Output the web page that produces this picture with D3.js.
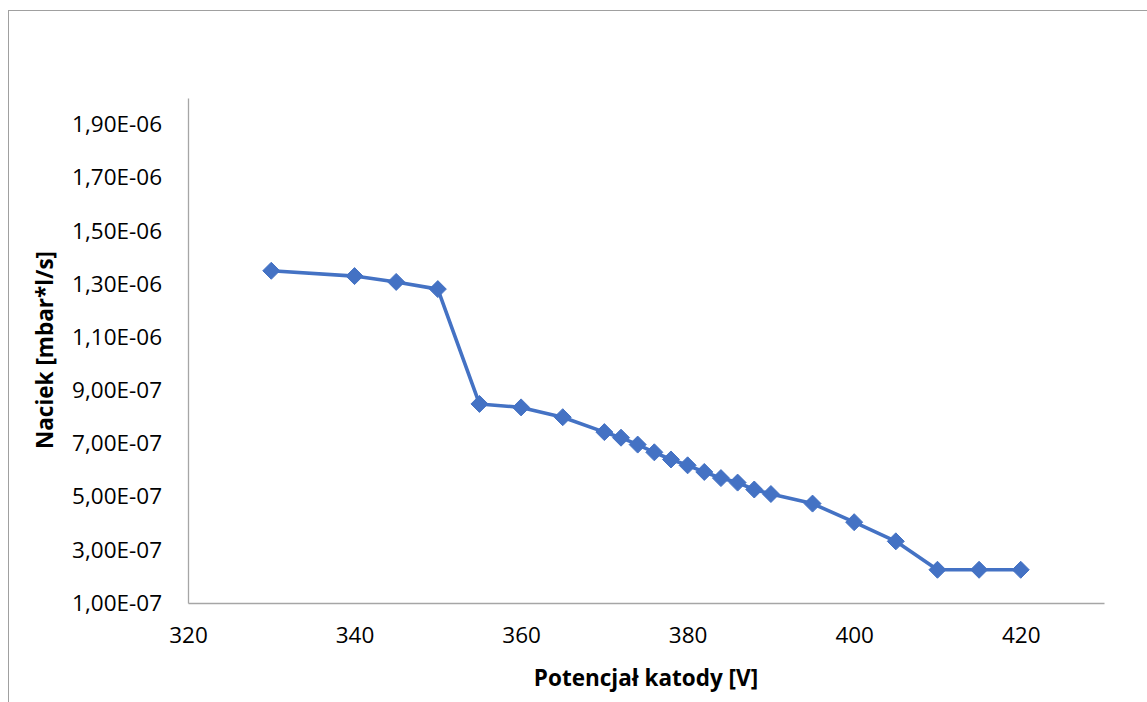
<!DOCTYPE html>
<html>
<head>
<meta charset="utf-8">
<script src="https://cdn.jsdelivr.net/npm/d3@7"></script>
<style>
  body { margin: 0; background: #fff; }
  text { font-family: "Open Sans", sans-serif; fill: #000; }
</style>
</head>
<body>
<div id="chart"></div>
<script>
// data
const voltages = [330, 340, 345, 350, 355, 360, 365, 370, 372, 374, 376, 378, 380,
  382, 384, 386, 388, 390, 395, 400, 405, 410, 415, 420];
const leaks = [1.35e-6, 1.33e-6, 1.308e-6, 1.281e-6, 8.49e-7, 8.36e-7, 7.99e-7, 7.43e-7,
  7.22e-7, 6.96e-7, 6.67e-7, 6.40e-7, 6.18e-7, 5.93e-7, 5.70e-7, 5.53e-7, 5.27e-7,
  5.10e-7, 4.74e-7, 4.04e-7, 3.32e-7, 2.25e-7, 2.25e-7, 2.25e-7];
const xTicks = [320, 340, 360, 380, 400, 420];
const yTicks = [1e-7, 3e-7, 5e-7, 7e-7, 9e-7, 1.1e-6, 1.3e-6, 1.5e-6, 1.7e-6, 1.9e-6];
const xTitle = "Potencjał katody [V]";
const yTitle = "Naciek [mbar*l/s]";

const svgWidth = 1147;
const svgHeight = 702;
const margin = { top: 98, right: 43, bottom: 99, left: 188 };
const width = svgWidth - margin.left - margin.right;
const height = svgHeight - margin.top - margin.bottom;

const svg = d3.select("#chart")
  .append("svg")
  .attr("width", svgWidth)
  .attr("height", svgHeight);

// outer chart frame
svg.append("rect")
  .attr("x", 8.5)
  .attr("y", 10.5)
  .attr("width", 1150)
  .attr("height", 720)
  .attr("fill", "none")
  .attr("stroke", "#a0a0a0")
  .attr("stroke-width", 1);

const chartGroup = svg.append("g")
  .attr("transform", `translate(${margin.left}, ${margin.top})`);

const x = d3.scaleLinear().domain([320, 430]).range([0, width]);
const y = d3.scaleLinear().domain([1e-7, 2e-6]).range([height, 0]);

const fmt = v => {
  const s = v.toExponential(2).toUpperCase().replace(".", ",");
  return s.replace(/E([+-])(\d)$/, "E$10$2");
};

// axes
const xAxis = chartGroup.append("g")
  .attr("transform", `translate(0, ${height})`)
  .call(d3.axisBottom(x).tickValues(xTicks).tickSize(0).tickPadding(24));
const yAxis = chartGroup.append("g")
  .call(d3.axisLeft(y).tickValues(yTicks).tickFormat(fmt).tickSize(0).tickPadding(26));

[xAxis, yAxis].forEach(a => {
  a.select(".domain").attr("stroke", "#a6a6a6").attr("stroke-width", 1.3);
  a.selectAll("text").attr("font-size", "22.5px").attr("font-family", "Open Sans").attr("fill", "#000");
});

// line
const line = d3.line()
  .x((d, i) => x(voltages[i]))
  .y(d => y(d));

chartGroup.append("path")
  .datum(leaks)
  .attr("d", line)
  .attr("fill", "none")
  .attr("stroke", "#4472C4")
  .attr("stroke-width", 3.6)
  .attr("stroke-linejoin", "round");

// diamond markers
chartGroup.selectAll("path.marker")
  .data(leaks)
  .enter()
  .append("path")
  .attr("class", "marker")
  .attr("d", "M0,-8.5L8.5,0L0,8.5L-8.5,0Z")
  .attr("transform", (d, i) => `translate(${x(voltages[i])}, ${y(d)})`)
  .attr("fill", "#4472C4")
  .attr("stroke", "#4472C4")
  .attr("stroke-width", 1);

// axis titles
svg.append("text")
  .attr("x", margin.left + x(375))
  .attr("y", 686)
  .attr("text-anchor", "middle")
  .attr("font-size", "22.5px")
  .attr("font-weight", "bold")
  .text(xTitle);

svg.append("text")
  .attr("transform", `translate(53, 350) rotate(-90)`)
  .attr("text-anchor", "middle")
  .attr("font-size", "22.5px")
  .attr("font-weight", "bold")
  .text(yTitle);
</script>
</body>
</html>
